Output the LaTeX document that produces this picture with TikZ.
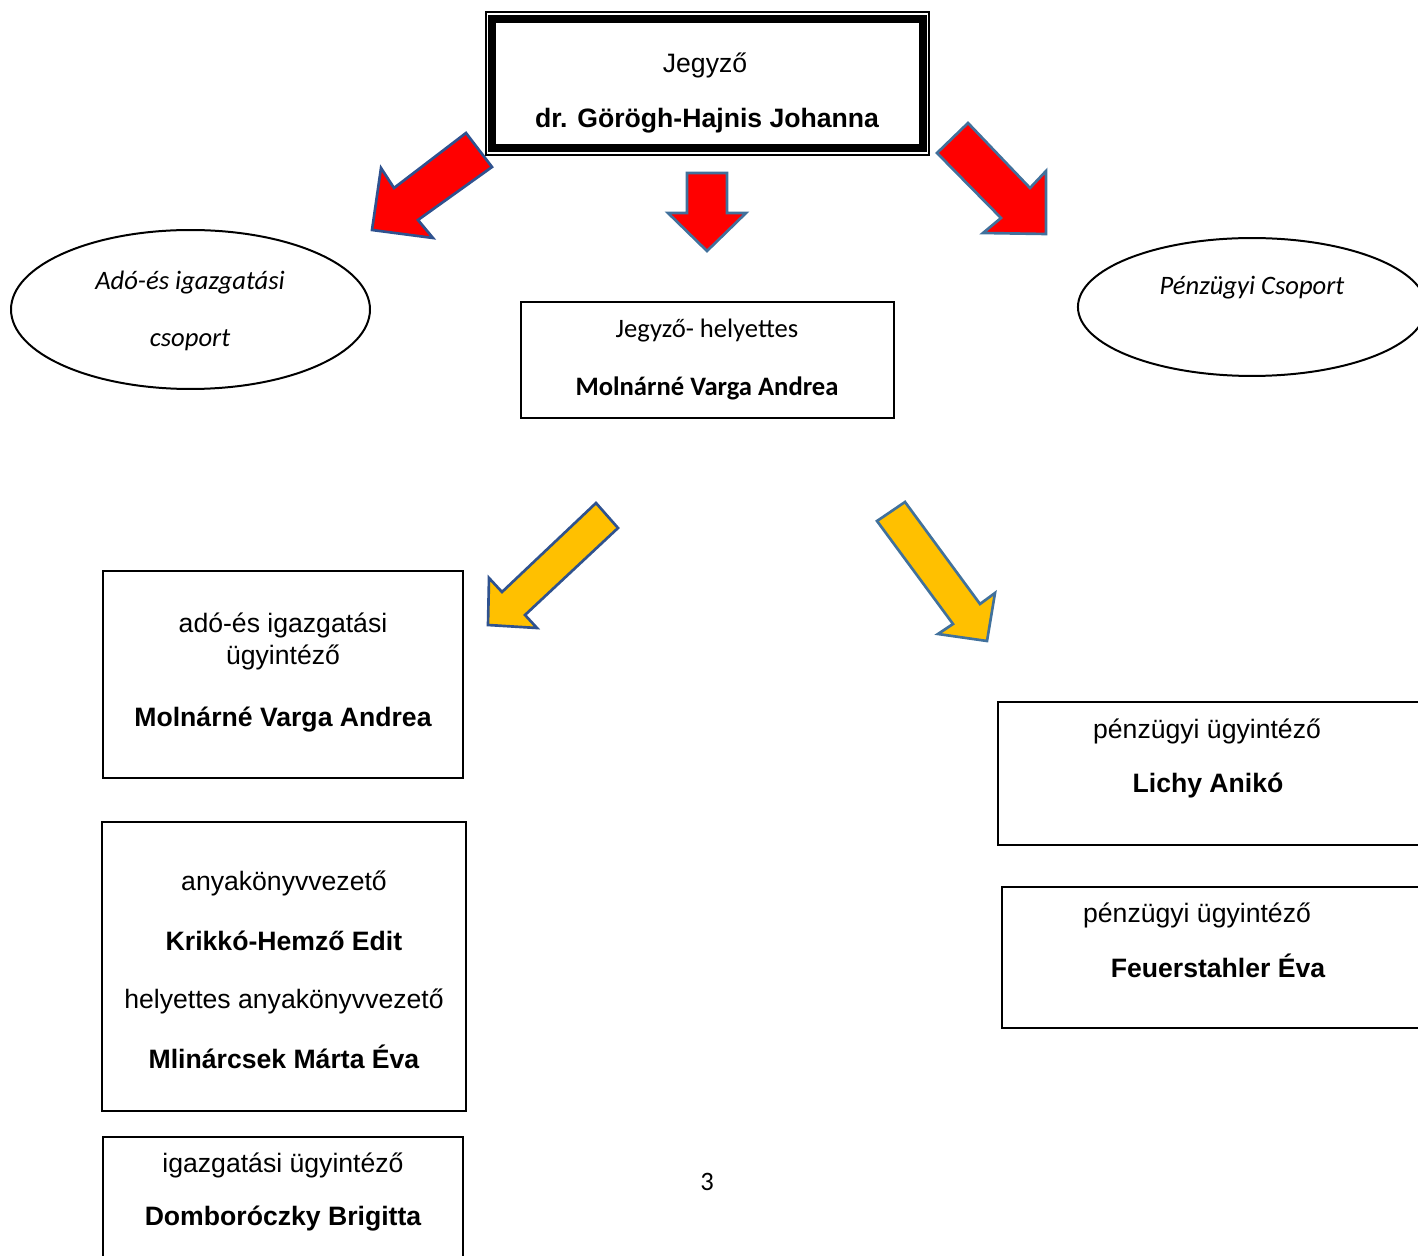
\documentclass[tikz,border=0pt]{standalone}
\usepackage{fontspec}
\setmainfont{Liberation Sans}
\newfontfamily\calibri{Carlito}
\usetikzlibrary{fit,shapes.geometric}

\definecolor{arrowred}{RGB}{255,0,0}
\definecolor{arrowgold}{RGB}{255,192,0}
\definecolor{edgedark}{RGB}{47,82,143}
\definecolor{edgelight}{RGB}{65,113,156}

\tikzset{
  box/.style={draw, line width=0.9pt, inner sep=0pt},
  oval/.style={draw, ellipse, line width=0.9pt, inner sep=0pt},
  txt/.style={anchor=base, inner sep=0pt, font=\fontsize{12}{14}\selectfont},
  person/.style={txt, font=\fontsize{12}{14}\selectfont\bfseries},
  cal/.style={txt, font=\fontsize{12}{14}\selectfont\calibri},
  calit/.style={txt, font=\fontsize{12}{14}\selectfont\calibri\itshape},
  redarrow/.style={fill=arrowred, draw=#1, line width=1.2pt},
  goldarrow/.style={fill=arrowgold, draw=#1, line width=1.2pt}
}

\begin{document}
\begin{tikzpicture}[x=0.451pt, y=-0.451pt]
\path[use as bounding box] (0,0) rectangle (1418,1256);
\clip (0,0) rectangle (1418,1256);

\node[box, line width=0.9pt, fit={(485.5,12) (929,155)}] (jegyzo) {};
\node[box, line width=3.6pt, fit={(492,19.5) (922.5,148)}] (jegyzoin) {};
\node[txt]    at (705,73)  (jegyzot) {Jegyző};
\node[person] at (707,128) (jegyzon) {dr. Görögh-Hajnis Johanna};

\node[oval, minimum width=161.9pt, minimum height=71.7pt] at (190.5,309.5) (adocs) {};
\node[calit] at (190,290) (adocs1) {Adó-és igazgatási};
\node[calit] at (190,347) (adocs2) {csoport};

\node[oval, minimum width=157pt, minimum height=62.2pt] at (1252,307) (penzcs) {};
\node[calit] at (1252,295) (penzcs1) {Pénzügyi Csoport};

\node[box, fit={(521,302) (894,418)}] (helyettes) {};
\node[cal] at (707,338) (helyettest) {Jegyző- helyettes};
\node[cal, font=\fontsize{12}{14}\selectfont\calibri\bfseries] at (707,396) (helyettesn) {Molnárné Varga Andrea};

\node[box, fit={(103,571) (463,778)}] (ado) {};
\node[txt]    at (283,632) (ado1) {adó-és igazgatási};
\node[txt]    at (283,664) (ado2) {ügyintéző};
\node[person] at (283,726) (ado3) {Molnárné Varga Andrea};

\node[box, fit={(102,822) (466,1111)}] (anya) {};
\node[txt]    at (284,890)  (anya1) {anyakönyvvezető};
\node[person] at (284,950)  (anya2) {Krikkó-Hemző Edit};
\node[txt]    at (284,1008) (anya3) {helyettes anyakönyvvezető};
\node[person] at (284,1068) (anya4) {Mlinárcsek Márta Éva};

\node[box, fit={(103,1137) (463,1270)}] (igaz) {};
\node[txt]    at (283,1172) (igaz1) {igazgatási ügyintéző};
\node[person] at (283,1225) (igaz2) {Domboróczky Brigitta};

\node[box, fit={(998,702) (1430,845)}] (lichy) {};
\node[txt]    at (1207,738) (lichy1) {pénzügyi ügyintéző};
\node[person] at (1208,792) (lichy2) {Lichy Anikó};

\node[box, fit={(1002,887) (1430,1028)}] (feuer) {};
\node[txt]    at (1197,922) (feuer1) {pénzügyi ügyintéző};
\node[person] at (1218,977) (feuer2) {Feuerstahler Éva};

\node[cal] at (707,1190) (oldal) {3};

\draw[redarrow=edgedark] (466,133) -- (492,167) -- (418,220) -- (433,238)
  -- (372,230) -- (381,168) -- (394,188) -- cycle;
\draw[redarrow=edgelight] (687,173) -- (727,173) -- (727,213) -- (746,213)
  -- (707,251) -- (668,213) -- (687,213) -- cycle;
\draw[redarrow=edgelight] (968,123) -- (1030,188) -- (1046,171) -- (1046,234)
  -- (983,233) -- (1001,218) -- (937,153) -- cycle;

\draw[goldarrow=edgedark] (596,503) -- (618,528) -- (525,615) -- (537,628)
  -- (488,625) -- (489,578) -- (502,592) -- cycle;
\draw[goldarrow=edgelight] (905,502) -- (980,604) -- (995,593) -- (987,641)
  -- (938,634) -- (953,624) -- (877,521) -- cycle;

\end{tikzpicture}
\end{document}
